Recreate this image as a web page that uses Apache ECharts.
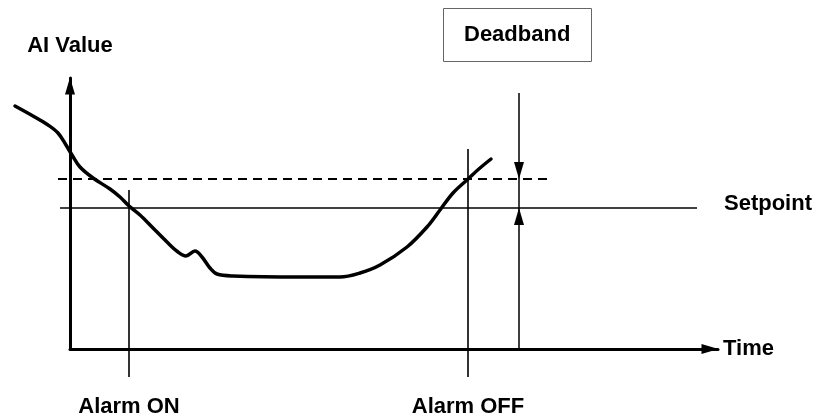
<!DOCTYPE html>
<html>
<head>
<meta charset="utf-8">
<script src="https://cdn.jsdelivr.net/npm/echarts@6/dist/echarts.min.js"></script>
<style>
  html, body { margin: 0; padding: 0; background: #fff; }
  #chart { width: 813px; height: 419px; }
</style>
</head>
<body>
<div id="chart"></div>
<script>
// AI value curve (time / value in axis units)
const curveTime = [-55, -37, -22, -12, -4, 2, 10, 23, 40, 50, 59, 70, 83, 97, 108, 116, 125, 132, 140, 147, 163, 230, 270, 290, 310, 337, 357, 370, 383, 398, 410, 421];
const curveValue = [243, 233, 224, 216, 204, 194, 182, 171, 160, 152, 143, 134, 121, 107, 97, 93, 98, 92, 81, 75, 73, 72, 72, 76, 84, 102, 122, 139, 156, 170, 181, 190];

// reference levels
const setpointValue = 141;
const setpointSpan = [-10, 627];
const deadbandTop = 170;
const deadbandSpan = [-12, 478];

// alarm markers: time, top, bottom
const alarmOn = [59, 159, -28];
const alarmOff = [398, 200, -28];
const deadbandArrow = [449, 256, 0];

const FONT = 'Liberation Sans';
const chart = echarts.init(document.getElementById('chart'));

const labelText = {
  color: '#000',
  fontFamily: FONT,
  fontWeight: 'bold',
  fontSize: 22
};

// all marks live on grid 1, which spans the whole canvas
const thinLine = (data, extra) => Object.assign({
  type: 'line',
  xAxisIndex: 1,
  yAxisIndex: 1,
  data: data,
  clip: false,
  silent: true,
  showSymbol: true,
  symbol: 'circle',
  symbolSize: 0,
  lineStyle: { color: '#000', width: 1.6 },
  z: 2
}, extra || {});

const alarmSeries = (a, name) => thinLine([
  [a[0], a[1]],
  { value: [a[0], a[2]], label: Object.assign({ show: true, position: 'bottom', distance: 19, formatter: name }, labelText) }
]);

const hiddenAxis = { show: false, type: 'value', gridIndex: 1 };

chart.setOption({
  animation: false,
  title: {
    text: 'Deadband',
    left: 443,
    top: 8,
    padding: [15, 21],
    borderColor: '#666',
    borderWidth: 1,
    textStyle: Object.assign({ lineHeight: 24 }, labelText)
  },
  grid: [
    { left: 70, right: 95, top: 78, bottom: 70 },
    { left: 0, right: 0, top: 0, bottom: 0 }
  ],
  xAxis: [{
    type: 'value',
    min: 0,
    max: 648,
    name: 'Time',
    nameLocation: 'end',
    nameGap: 5,
    nameTextStyle: labelText,
    axisLine: {
      lineStyle: { color: '#000', width: 3 },
      symbol: ['none', 'triangle'],
      symbolSize: [10, 17],
      symbolOffset: [0, -8]
    },
    axisTick: { show: false },
    axisLabel: { show: false },
    splitLine: { show: false }
  }, Object.assign({ min: -70, max: 743 }, hiddenAxis)],
  yAxis: [{
    type: 'value',
    min: 0,
    max: 271,
    name: 'AI Value',
    nameLocation: 'end',
    nameGap: 21,
    nameTextStyle: labelText,
    axisLine: {
      show: true,
      lineStyle: { color: '#000', width: 3 },
      symbol: ['none', 'triangle'],
      symbolSize: [10, 17],
      symbolOffset: [0, -8]
    },
    axisTick: { show: false },
    axisLabel: { show: false },
    splitLine: { show: false }
  }, Object.assign({ min: -70, max: 349 }, hiddenAxis)],
  series: [
    thinLine([
      [setpointSpan[0], setpointValue],
      { value: [setpointSpan[1], setpointValue], label: Object.assign({ show: true, position: 'right', distance: 27, offset: [0, -4], formatter: 'Setpoint' }, labelText) }
    ]),
    thinLine([[deadbandSpan[0], deadbandTop], [deadbandSpan[1], deadbandTop]], {
      lineStyle: { color: '#000', width: 2, type: [9, 6] }
    }),
    alarmSeries(alarmOn, 'Alarm ON'),
    alarmSeries(alarmOff, 'Alarm OFF'),
    thinLine([
      [deadbandArrow[0], deadbandArrow[1]],
      { value: [deadbandArrow[0], deadbandTop], symbol: 'triangle', symbolRotate: 180, symbolSize: [10, 17], symbolOffset: [0, -8.5] },
      { value: [deadbandArrow[0], setpointValue], symbol: 'triangle', symbolSize: [10, 17], symbolOffset: [0, 8.5] },
      [deadbandArrow[0], deadbandArrow[2]]
    ], {
      itemStyle: { color: '#000' },
      lineStyle: { color: '#000', width: 1.5 }
    }),
    {
      type: 'line',
      xAxisIndex: 1,
      yAxisIndex: 1,
      data: curveTime.map((t, i) => [t, curveValue[i]]),
      clip: false,
      silent: true,
      smooth: 0.35,
      showSymbol: false,
      symbol: 'none',
      lineStyle: { color: '#000', width: 3.5, cap: 'round', join: 'round' },
      z: 3
    }
  ]
});
</script>
</body>
</html>
